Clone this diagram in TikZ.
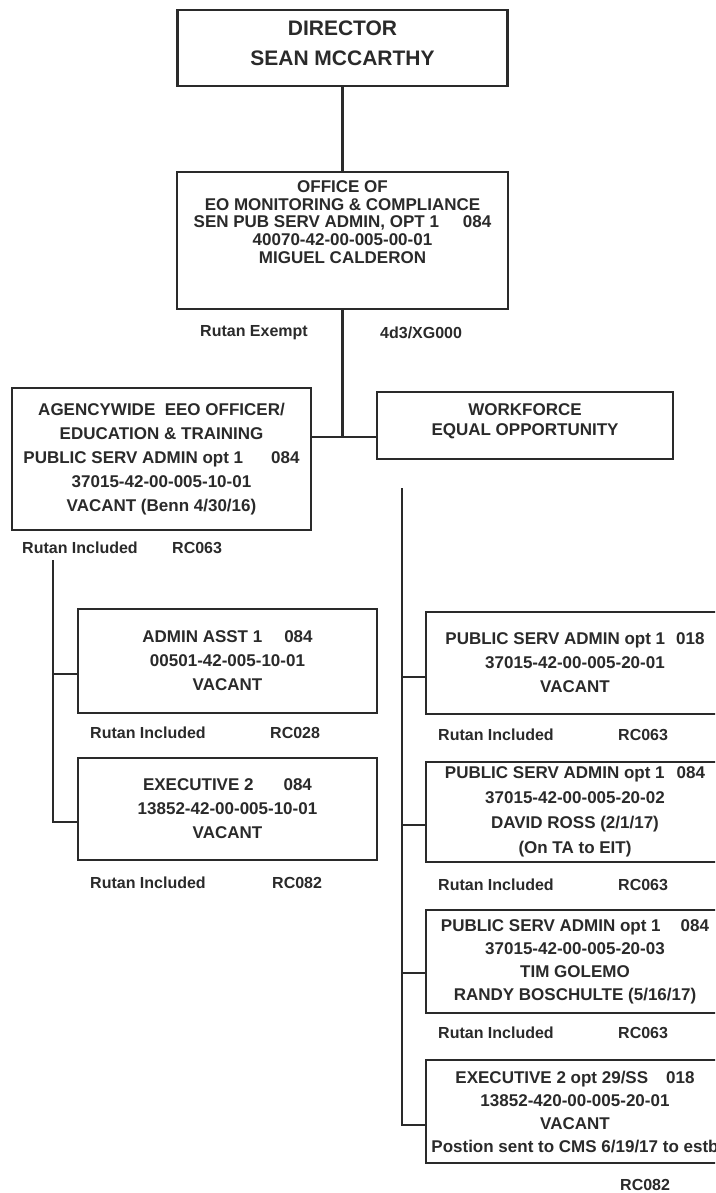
\documentclass[tikz,border=0pt]{standalone}
\usepackage{fontspec}
\setmainfont{Liberation Sans}
\definecolor{ink}{RGB}{42,42,42}
\tikzset{
  box/.style={draw=ink, line width=2.4pt, text=ink, align=center, inner sep=0pt,
    font=\bfseries\fontsize{17}{24}\selectfont},
  conn/.style={draw=ink, line width=2.4pt},
  lbl/.style={text=ink, anchor=west, inner sep=0pt, font=\bfseries\fontsize{16}{18}\selectfont},
}
\begin{document}
\begin{tikzpicture}[x=1pt,y=-1pt]
\useasboundingbox (0,0) rectangle (715,1193);
\clip (0,0) rectangle (715,1193);
\fill[white] (0,0) rectangle (715,1193);

% boxes
\node[box, minimum width=330pt, minimum height=76pt, text depth=9pt,
  font=\bfseries\fontsize{21}{30}\selectfont] (dir) at (342.5,48) {DIRECTOR\\SEAN MCCARTHY};
\node[box, minimum width=331pt, minimum height=137pt, text depth=37pt,
  font=\bfseries\fontsize{17}{17.8}\selectfont] (off) at (342.5,240.5)
  {OFFICE OF\\EO MONITORING \& COMPLIANCE\\SEN PUB SERV ADMIN, OPT 1\hspace{24pt}084\\40070-42-00-005-00-01\\MIGUEL CALDERON};
\node[box, minimum width=299pt, minimum height=142pt] (agy) at (161.5,459)
  {AGENCYWIDE\ \ EEO OFFICER/\\EDUCATION \& TRAINING\\PUBLIC SERV ADMIN opt 1\hspace{28pt}084\\37015-42-00-005-10-01\\VACANT (Benn 4/30/16)};
\node[box, minimum width=296pt, minimum height=67pt, text depth=11pt,
  font=\bfseries\fontsize{17}{20}\selectfont] (wfo) at (525,425.5) {WORKFORCE\\EQUAL OPPORTUNITY};
\node[box, minimum width=299pt, minimum height=104pt] (adm) at (227.5,661)
  {ADMIN ASST 1\hspace{22pt}084\\00501-42-005-10-01\\VACANT};
\node[box, minimum width=299pt, minimum height=102pt] (exe) at (227.5,809)
  {EXECUTIVE 2\hspace{30pt}084\\13852-42-00-005-10-01\\VACANT};
\node[box, minimum width=298pt, minimum height=102pt] (ra) at (575,663)
  {PUBLIC SERV ADMIN opt 1\hspace{11pt}018\\37015-42-00-005-20-01\\VACANT};
\node[box, minimum width=298pt, minimum height=100pt, font=\bfseries\fontsize{17}{25}\selectfont] (rb) at (575,812)
  {PUBLIC SERV ADMIN opt 1\hspace{12pt}084\\37015-42-00-005-20-02\\DAVID ROSS (2/1/17)\\(On TA to EIT)};
\node[box, minimum width=298pt, minimum height=103pt, font=\bfseries\fontsize{17}{23}\selectfont] (rc) at (575,961.5)
  {PUBLIC SERV ADMIN opt 1\hspace{20pt}084\\37015-42-00-005-20-03\\TIM GOLEMO\\RANDY BOSCHULTE (5/16/17)};
\node[box, minimum width=298pt, minimum height=103pt, font=\bfseries\fontsize{17}{23}\selectfont] (rd) at (575,1111.5)
  {EXECUTIVE 2 opt 29/SS\hspace{18pt}018\\13852-420-00-005-20-01\\VACANT\\Postion sent to CMS 6/19/17 to estb};

% connectors
\coordinate (j) at (342.5,437);
\draw[conn] (dir.south) -- (off.north);
\draw[conn] (off.south) -- (off.south |- j);
\draw[conn] (agy.east |- j) -- (wfo.west |- j);

\coordinate (ltop) at (53,560);
\coordinate (ba) at ([yshift=-13pt]adm.west);
\coordinate (be) at ([yshift=-13pt]exe.west);
\draw[conn] (ltop) |- (be);
\draw[conn] (ltop |- ba) -- (ba);

\coordinate (rtop) at (402,488);
\coordinate (bra) at ([yshift=-14pt]ra.west);
\coordinate (brb) at ([yshift=-13pt]rb.west);
\coordinate (brc) at ([yshift=-11.5pt]rc.west);
\coordinate (brd) at ([yshift=-13.5pt]rd.west);
\draw[conn] (rtop) |- (brd);
\draw[conn] (rtop |- bra) -- (bra);
\draw[conn] (rtop |- brb) -- (brb);
\draw[conn] (rtop |- brc) -- (brc);

% labels
\node[lbl] (l0) at (200,333) {Rutan Exempt};
\node[lbl] (l1) at (380,333) {4d3/XG000};
\node[lbl] (l2) at (22,548) {Rutan Included};
\node[lbl] (l3) at (172,548) {RC063};
\node[lbl] (l4) at (90,733) {Rutan Included};
\node[lbl] (l5) at (270,733) {RC028};
\node[lbl] (l6) at (90,883) {Rutan Included};
\node[lbl] (l7) at (272,883) {RC082};
\node[lbl] (l8) at (438,735) {Rutan Included};
\node[lbl] (l9) at (618,735) {RC063};
\node[lbl] (l10) at (438,885) {Rutan Included};
\node[lbl] (l11) at (618,885) {RC063};
\node[lbl] (l12) at (438,1033) {Rutan Included};
\node[lbl] (l13) at (618,1033) {RC063};
\node[lbl] (l14) at (620,1185) {RC082};
\end{tikzpicture}
\end{document}
